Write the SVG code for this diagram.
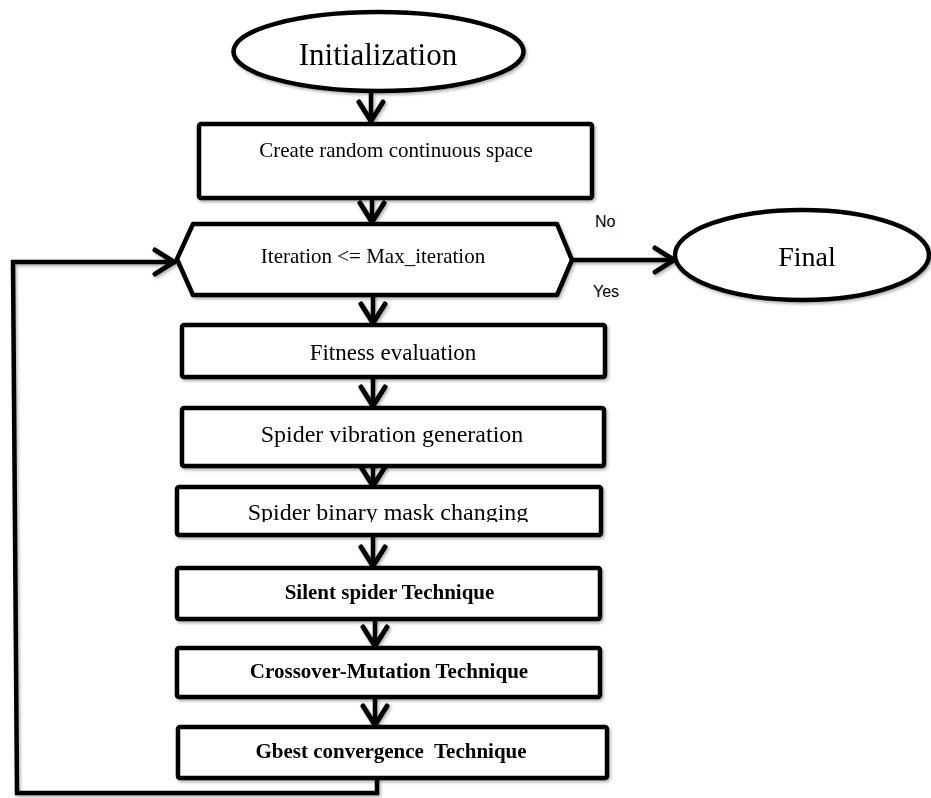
<svg xmlns="http://www.w3.org/2000/svg" width="931" height="798" viewBox="0 0 931 798">
<style>
.shape{fill:#fff;stroke:#000;stroke-width:4.5;stroke-linejoin:round}
.conn{fill:none;stroke:#000;stroke-width:4.5;stroke-linejoin:miter}
.t{font-family:"Liberation Serif","Times New Roman",serif;fill:#000;text-anchor:middle}
.b{font-weight:bold;font-size:21px}
.s{font-family:"Liberation Sans",Arial,sans-serif;font-size:16px;fill:#000}
</style>
<defs>
<filter id="sh" x="-10%" y="-10%" width="130%" height="140%">
<feDropShadow dx="1.5" dy="2" stdDeviation="1.5" flood-color="#000" flood-opacity="0.3"/>
</filter>
<marker id="arr" viewBox="-28 -16 32 32" markerWidth="32" markerHeight="32" refX="0" refY="0" orient="auto" markerUnits="userSpaceOnUse">
<path d="M-21,-12 L-2,0 L-21,12" fill="none" stroke="#000" stroke-width="5" stroke-linecap="round" stroke-linejoin="miter"/>
</marker>
<clipPath id="clipBin"><rect x="177" y="486" width="424" height="36"/></clipPath>
</defs>

<g id="connectors" filter="url(#sh)">
<path class="conn" d="M371,91 L371,123" marker-end="url(#arr)"/>
<path class="conn" d="M372,199 L372,224" marker-end="url(#arr)"/>
<path class="conn" d="M373,295 L373,325" marker-end="url(#arr)"/>
<path class="conn" d="M373,377 L373,408" marker-end="url(#arr)"/>
<path class="conn" d="M373,466 L373,488" marker-end="url(#arr)"/>
<path class="conn" d="M373,535 L373,568" marker-end="url(#arr)"/>
<path class="conn" d="M375,619 L375,648" marker-end="url(#arr)"/>
<path class="conn" d="M375,697 L375,727" marker-end="url(#arr)"/>
<path class="conn" d="M572,260 L676,260" marker-end="url(#arr)"/>
<path class="conn" d="M377,778 L377,793 L17,793 L13,262 L176,262" marker-end="url(#arr)"/>
</g>

<g id="n-init" filter="url(#sh)">
<ellipse class="shape" cx="378.5" cy="51.5" rx="145" ry="39.5"/>
<text class="t" x="378" y="65" font-size="31">Initialization</text>
</g>

<g id="n-create" filter="url(#sh)">
<rect class="shape" x="199" y="124" width="393" height="74" rx="2"/>
<text class="t" x="396" y="157" font-size="21">Create random continuous space</text>
</g>

<g id="n-iter" filter="url(#sh)">
<polygon class="shape" points="177,259 193,224 557,224 572,260 557,295 193,295"/>
<text class="t" x="373" y="263" font-size="21">Iteration &lt;= Max_iteration</text>
</g>

<g id="n-final" filter="url(#sh)">
<ellipse class="shape" cx="802" cy="255" rx="127" ry="45"/>
<text class="t" x="807" y="266" font-size="28">Final</text>
</g>

<g id="labels">
<text class="s" x="595" y="227">No</text>
<text class="s" x="593" y="297">Yes</text>
</g>

<g id="n-fitness" filter="url(#sh)">
<rect class="shape" x="182" y="325" width="423" height="52" rx="2"/>
<text class="t" x="393" y="360" font-size="23">Fitness evaluation</text>
</g>

<g id="n-vibration" filter="url(#sh)">
<rect class="shape" x="182" y="408" width="422" height="58" rx="2"/>
<text class="t" x="392" y="442" font-size="24">Spider vibration generation</text>
</g>

<g id="n-binary" filter="url(#sh)">
<rect class="shape" x="177" y="487" width="424" height="48" rx="2"/>
<text class="t" x="388" y="520" font-size="24" clip-path="url(#clipBin)">Spider binary mask changing</text>
</g>

<g id="n-silent" filter="url(#sh)">
<rect class="shape" x="177" y="568" width="423" height="51" rx="2"/>
<text class="t b" x="389.5" y="599">Silent spider Technique</text>
</g>

<g id="n-crossover" filter="url(#sh)">
<rect class="shape" x="177" y="648" width="423" height="49" rx="2"/>
<text class="t b" x="389" y="678">Crossover-Mutation Technique</text>
</g>

<g id="n-gbest" filter="url(#sh)">
<rect class="shape" x="178" y="727" width="429" height="51" rx="2"/>
<text class="t b" x="391" y="758" style="white-space:pre" xml:space="preserve">Gbest convergence  Technique</text>
</g>
</svg>
